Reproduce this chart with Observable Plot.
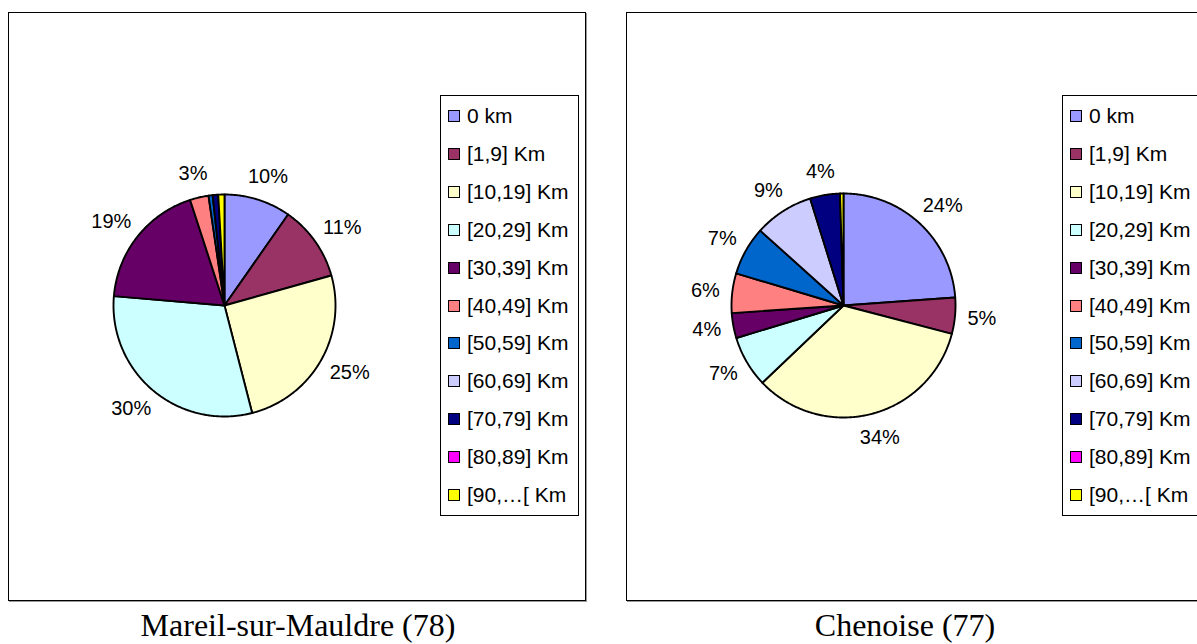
<!DOCTYPE html>
<html><head><meta charset="utf-8">
<script src="https://cdn.jsdelivr.net/npm/d3@7"></script>
<script src="https://cdn.jsdelivr.net/npm/@observablehq/plot@0.6"></script>
<style>
body{margin:0;width:1197px;height:644px;overflow:hidden;background:#fff;position:relative;font-family:"Liberation Sans",Arial,sans-serif;}
.panel{position:absolute;top:12px;width:576px;height:587px;border:1px solid #000;box-shadow:1px 1px 0 #999;background:#fff;}
.panel svg{position:absolute;left:0;top:0;}
.legend{position:absolute;top:82px;width:137px;height:419px;border:1px solid #000;background:#fff;}
.legend .row{position:absolute;left:0;height:22px;display:flex;align-items:center;font-size:21px;white-space:nowrap;color:#000;}
.sw{width:10px;height:10px;border:1px solid #000;margin-left:7px;margin-right:7px;flex:none;}
.caption{position:absolute;top:607px;font-family:"Liberation Serif","Times New Roman",serif;font-size:32px;text-align:center;color:#000;}
</style></head>
<body>
<div class="panel" id="p1" style="left:8px"></div>
<div class="panel" id="p2" style="left:626px"></div>
<div class="caption" style="left:0;width:596px">Mareil-sur-Mauldre (78)</div>
<div class="caption" style="left:626px;width:558px">Chenoise (77)</div>
<script>
const categories = ["0 km","[1,9] Km","[10,19] Km","[20,29] Km","[30,39] Km","[40,49] Km","[50,59] Km","[60,69] Km","[70,79] Km","[80,89] Km","[90,\u2026[ Km"];
const colors = ["#9999FF","#993366","#FFFFCC","#CCFFFF","#660066","#FF8080","#0066CC","#CCCCFF","#000080","#FF00FF","#FFFF00"];
const mareilValues = [9.7,10.9,25.3,30.3,18.6,2.7,0.6,0,0.8,0,0.9];
const chenoiseValues = [23.8,5.2,33.7,7.4,3.6,5.7,7.0,8.5,4.3,0,0.5];

function pieChart(values, cx, cy, R) {
  const total = d3.sum(values);
  const arcs = d3.pie().sort(null).value(d => d)(values);
  const pts = [];
  arcs.forEach((a, i) => {
    if (a.endAngle - a.startAngle <= 0) return;
    const cat = categories[i];
    pts.push({cat, x: 0, y: 0});
    const n = Math.max(2, Math.ceil((a.endAngle - a.startAngle) / 0.01));
    for (let k = 0; k <= n; k++) {
      const t = a.startAngle + (a.endAngle - a.startAngle) * k / n;
      pts.push({cat, x: Math.sin(t), y: Math.cos(t)});
    }
    pts.push({cat, x: 0, y: 0});
  });
  const gap = 14, hh = 10;
  const labels = arcs.filter(a => a.value / total >= 0.02).map(a => {
    const m = (a.startAngle + a.endAngle) / 2;
    const text = Math.round(a.value / total * 100) + "%";
    const hw = text.length * 6.5;
    return {text, x: Math.sin(m) * (R + gap + hw) / R, y: Math.cos(m) * (R + gap + hh) / R};
  });
  return Plot.plot({
    width: 576, height: 587, margin: 0,
    x: {domain: [-1, 1], range: [cx - R, cx + R], axis: null},
    y: {domain: [-1, 1], range: [cy + R, cy - R], axis: null},
    color: {domain: categories, range: colors},
    style: {fontFamily: '"Liberation Sans", Arial, sans-serif', background: "transparent", overflow: "visible"},
    marks: [
      Plot.line(pts, {x: "x", y: "y", z: "cat", fill: "cat", stroke: "#000", strokeWidth: 1.9, strokeLinejoin: "round", curve: "linear"}),
      Plot.text(labels, {x: "x", y: "y", text: "text", fontSize: 20, fill: "#000", textAnchor: "middle", lineAnchor: "middle"})
    ]
  });
}

function legend(left) {
  const div = document.createElement("div");
  div.className = "legend";
  div.style.left = left + "px";
  categories.forEach((c, i) => {
    const row = document.createElement("div");
    row.className = "row";
    row.style.top = (9 + 37.9 * i) + "px";
    const sw = document.createElement("span");
    sw.className = "sw";
    sw.style.background = colors[i];
    const t = document.createElement("span");
    t.textContent = c;
    row.appendChild(sw); row.appendChild(t);
    div.appendChild(row);
  });
  return div;
}

const p1 = document.getElementById("p1");
p1.appendChild(pieChart(mareilValues, 215, 292, 111));
p1.appendChild(legend(431));
const p2 = document.getElementById("p2");
p2.appendChild(pieChart(chenoiseValues, 216, 292, 112));
p2.appendChild(legend(435));
</script>
</body></html>
